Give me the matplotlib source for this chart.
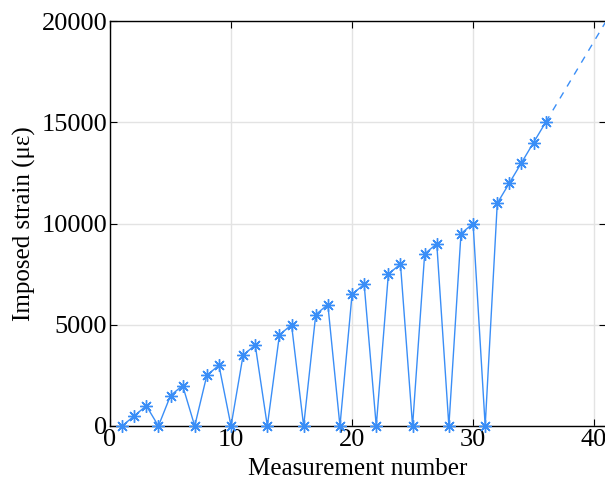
import matplotlib
matplotlib.use("Agg")
import matplotlib.pyplot as plt

measurement = list(range(1, 37))
strain = [0, 500, 1000, 0, 1500, 2000, 0, 2500, 3000, 0, 3500, 4000,
          0, 4500, 5000, 0, 5500, 6000, 0, 6500, 7000, 0, 7500, 8000,
          0, 8500, 9000, 0, 9500, 10000, 0, 11000, 12000, 13000, 14000, 15000]
extrap_x = [36, 41]
extrap_y = [15000, 20000]

xticks = [0, 10, 20, 30, 40]
yticks = [0, 5000, 10000, 15000, 20000]

plt.rcParams['font.family'] = ['Liberation Serif', 'DejaVu Serif']
color = '#3a8ef7'

fig = plt.figure(figsize=(6.05, 4.79), dpi=100)
ax = fig.add_axes([110/605, 1-426/479, 1.0 - 110/605 + 0.002, (426-21)/479])

ax.plot(measurement, strain, color=color, lw=1.0, marker=(8, 2, 0),
        markersize=9, markeredgewidth=1.0, clip_on=False, zorder=3)
ax.plot(extrap_x, extrap_y, color=color, lw=1.0, linestyle=(0, (5, 5)), zorder=3)

ax.set_xlim(0, 41)
ax.set_ylim(0, 20000)
ax.set_xticks(xticks)
ax.set_yticks(yticks)
ax.grid(True, color='#e3e3e3', lw=1.0)
ax.set_axisbelow(True)
ax.tick_params(direction='in', top=True, right=True, labelsize=19, length=5, pad=2)
for s in ax.spines.values():
    s.set_linewidth(1.0)
ax.set_xlabel('Measurement number', fontsize=18, labelpad=5)
ax.set_ylabel('Imposed strain (\u03bc\u03b5)', fontsize=18, labelpad=4)

fig.savefig('out.png', dpi=100)
